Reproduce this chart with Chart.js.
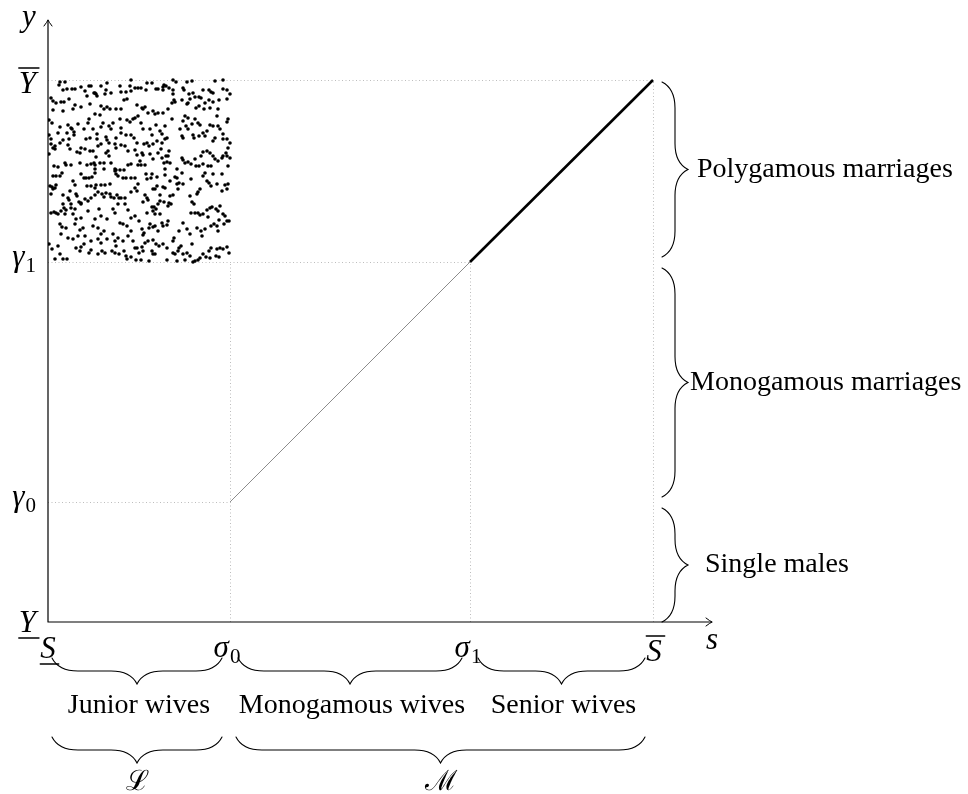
<!DOCTYPE html>
<html>
<head>
<meta charset="utf-8">
<script src="https://cdn.jsdelivr.net/npm/chart.js@4/dist/chart.umd.min.js"></script>
<style>
  html, body { margin: 0; padding: 0; background: #fff; }
</style>
</head>
<body>
<canvas id="c" width="968" height="794"></canvas>
<script>
// Thresholds on the wife-share axis (s) and the male-income axis (y)
const sLow = 0, sigma0 = 182, sigma1 = 422, sHigh = 605, sEnd = 664;
const yLow = 0, gamma0 = 120, gamma1 = 360, yHigh = 542, yEnd = 602;

// Tick labels: [base symbol, subscript, decoration]
const sTickLabels = [["S", "", "under"], ["σ", "0", ""], ["σ", "1", ""], ["S", "", "over"]];
const yTickLabels = [["Y", "", "under"], ["γ", "0", ""], ["γ", "1", ""], ["Y", "", "over"]];

// Brace groups
const wifeGroups = ["Junior wives", "Monogamous wives", "Senior wives"];
const wifeBounds = [[sLow, sigma0], [sigma0, sigma1], [sigma1, sHigh]];
const classGroups = ["ℒ", "ℳ"];
const classBounds = [[sLow, sigma0], [sigma0, sHigh]];
const marriageGroups = ["Polygamous marriages", "Monogamous marriages", "Single males"];
const marriageBounds = [[gamma1, yHigh], [gamma0, gamma1], [yLow, gamma0]];

// Scattered (s, y) pairs of polygamous households, by block of the box
const dotsUpperLeft = [
[12,540],[17,540],[11,537],[15,532],[19,533],[24,533],[27,533],[33,535],[37,531],[41,536],[43,536],[47,529],[48,528],
[53,536],[59,539],[58,532],[57,528],[63,529],[72,536],[73,530],[78,530],[83,542],[82,536],[83,531],[87,534],[90,534],
[3,524],[5,521],[8,519],[13,520],[16,520],[21,523],[25,513],[27,517],[33,515],[39,526],[42,518],[46,529],[49,526],
[53,516],[56,513],[59,515],[62,513],[68,513],[73,513],[76,522],[79,523],[89,517],[5,512],[15,511],[41,503],[47,508],
[52,507],[1,502],[4,499],[20,497],[23,494],[24,493],[30,498],[36,493],[40,499],[45,493],[53,495],[55,499],[61,496],
[63,493],[65,499],[72,503],[79,502],[82,500],[85,503],[87,504],[90,506],[12,495],[10,489],[1,487],[3,483],[15,482],
[19,489],[21,483],[26,487],[26,490],[38,483],[42,484],[49,488],[49,483],[58,485],[59,482],[61,479],[68,484],[73,494],
[73,489],[78,487],[83,487],[86,484],[89,479],[7,476],[12,479],[3,478],[5,474],[7,473],[20,477],[22,473],[33,474],
[37,473],[29,470],[32,469],[42,471],[45,471],[50,476],[53,478],[58,469],[60,471],[67,478],[68,474],[73,477],[77,476],
[80,471],[89,467],[1,468],[48,465],[61,466],[87,472],[6,456],[10,455],[17,459],[18,457],[23,457],[32,459],[39,457],
[43,458],[46,459],[47,457],[52,459],[56,459],[63,459],[67,453],[68,452],[72,452],[76,452],[80,457],[83,458],[90,457],
[47,453],[56,453]
];
const dotsUpperRight = [
[99,539],[98,532],[93,534],[104,539],[108,533],[110,533],[115,535],[116,537],[118,536],[115,532],[121,534],[125,542],
[128,540],[125,532],[125,528],[126,522],[127,520],[134,522],[139,540],[144,541],[135,534],[136,532],[141,528],[145,529],
[147,525],[151,525],[153,524],[155,532],[161,532],[163,530],[165,529],[167,541],[175,542],[175,533],[179,532],[182,528],
[179,523],[171,522],[161,522],[157,519],[142,523],[140,519],[139,518],[148,514],[151,516],[156,513],[162,514],[165,520],
[170,513],[169,506],[180,503],[179,500],[95,513],[94,514],[97,515],[100,509],[105,511],[107,508],[110,509],[115,509],
[124,519],[120,513],[124,503],[93,499],[95,493],[102,493],[104,487],[108,497],[112,491],[117,496],[114,488],[109,481],
[105,478],[99,479],[96,478],[101,476],[114,479],[117,483],[119,484],[137,506],[135,501],[140,504],[144,498],[147,503],
[150,499],[152,497],[138,496],[140,493],[132,493],[134,486],[135,484],[145,487],[146,484],[151,486],[157,486],[155,489],
[159,491],[162,497],[165,496],[170,496],[172,493],[175,488],[167,484],[165,481],[175,483],[179,483],[182,479],[180,474],
[178,469],[94,469],[95,467],[92,461],[93,457],[97,457],[102,468],[105,463],[110,469],[113,473],[114,464],[118,466],
[120,466],[121,471],[119,460],[122,459],[129,453],[134,464],[135,462],[137,459],[140,460],[143,458],[147,463],[148,456],
[151,456],[153,466],[155,470],[159,471],[162,469],[165,466],[167,463],[170,461],[174,464],[175,466],[179,466],[182,464],
[180,456],[116,459],[117,453],[155,458],[160,456],[163,456]
];
const dotsLowerLeft = [
[5,446],[8,446],[12,446],[14,449],[2,436],[4,435],[5,433],[3,428],[7,434],[8,437],[25,441],[27,437],[33,448],[36,444],
[38,444],[41,444],[44,445],[47,449],[43,436],[39,436],[47,434],[48,437],[53,437],[57,437],[62,438],[67,451],[68,448],
[70,446],[75,444],[78,444],[83,444],[87,444],[90,438],[87,434],[89,431],[83,430],[77,424],[73,424],[71,424],[69,427],
[66,424],[63,425],[62,428],[58,429],[56,425],[54,428],[50,430],[47,427],[43,424],[40,421],[37,423],[33,419],[31,420],
[29,426],[28,428],[22,431],[15,427],[20,424],[21,422],[23,418],[15,418],[23,414],[27,413],[3,409],[6,410],[8,409],
[10,408],[13,411],[16,414],[18,412],[17,408],[33,418],[40,411],[33,404],[28,403],[25,408],[47,403],[51,413],[53,406],
[59,403],[65,413],[67,409],[70,418],[77,418],[80,412],[83,404],[87,406],[91,401],[79,396],[75,398],[72,399],[12,398],
[14,395],[13,388],[18,394],[27,398],[32,392],[35,394],[37,386],[30,386],[20,384],[25,383],[45,396],[50,394],[53,388],
[56,391],[50,383],[43,381],[59,383],[65,388],[67,381],[68,376],[70,384],[75,381],[80,386],[83,391],[85,381],[87,374],
[89,374],[91,369],[1,378],[4,373],[10,376],[7,363],[12,368],[15,363],[19,363],[28,374],[32,371],[33,375],[36,378],
[41,369],[43,372],[53,379],[54,371],[57,369],[64,371],[67,369],[71,368],[76,371],[78,366],[79,363],[88,362],[83,365],
[50,368]
];
const dotsLowerRight = [
[98,448],[104,448],[103,444],[99,443],[109,445],[117,447],[127,445],[129,444],[134,449],[143,443],[155,446],[157,449],
[165,448],[174,448],[159,441],[161,439],[163,436],[169,438],[177,437],[180,438],[179,433],[174,431],[152,433],[150,430],
[149,428],[142,426],[144,420],[146,418],[135,438],[129,438],[131,439],[130,433],[122,441],[117,434],[115,435],[109,436],
[105,433],[107,433],[112,427],[112,421],[116,420],[110,418],[106,415],[108,413],[122,426],[125,427],[121,419],[123,418],
[120,416],[97,427],[99,424],[100,422],[95,420],[104,415],[105,411],[99,409],[112,408],[107,408],[114,399],[107,396],
[105,395],[101,394],[102,398],[94,393],[96,389],[95,387],[115,396],[119,397],[120,401],[110,391],[100,381],[97,379],
[105,382],[108,378],[94,375],[95,371],[104,371],[105,368],[107,368],[111,376],[115,378],[119,374],[126,384],[125,381],
[135,399],[131,391],[139,393],[142,388],[149,394],[153,391],[157,393],[154,386],[163,396],[166,398],[169,396],[170,391],
[176,398],[179,401],[181,401],[143,409],[147,409],[150,409],[152,407],[155,408],[159,412],[162,414],[164,415],[168,413],
[172,416],[170,411],[175,408],[177,406],[171,402],[160,405],[144,378],[133,376],[131,374],[125,369],[127,368],[130,371],
[135,368],[139,369],[142,366],[147,361],[152,364],[155,368],[158,365],[161,371],[163,374],[169,373],[172,374],[175,373],
[179,375],[181,369],[162,364],[168,366],[171,365],[93,362],[101,361],[119,362],[129,361],[137,362],[145,360],[150,362]
];

const toPoints = arr => arr.map(([x, y]) => ({ x, y }));
const allDots = [].concat(dotsUpperLeft, dotsUpperRight, dotsLowerLeft, dotsLowerRight);

const SERIF = '"Liberation Serif", "DejaVu Serif", serif';
const MATH = 'italic 31px ' + SERIF;
const SUBF = '21px ' + SERIF;
const TEXT = '28px ' + SERIF;

// TikZ-style curly brace from p1 to p2, bulging to the left of the travel direction
function brace(ctx, x1, y1, x2, y2, amp) {
  const dx = x2 - x1, dy = y2 - y1, len = Math.hypot(dx, dy);
  const ux = dx / len, uy = dy / len, nx = uy, ny = -ux;
  const P = (t, h) => [x1 + ux * t + nx * h, y1 + uy * t + ny * h];
  const a = amp, m = len / 2;
  ctx.beginPath();
  ctx.moveTo(...P(0, 0));
  ctx.bezierCurveTo(...P(.15 * a, .3 * a), ...P(.5 * a, .5 * a), ...P(a, .5 * a));
  ctx.lineTo(...P(m - a, .5 * a));
  ctx.bezierCurveTo(...P(m - .5 * a, .5 * a), ...P(m - .15 * a, .7 * a), ...P(m, a));
  ctx.bezierCurveTo(...P(m + .15 * a, .7 * a), ...P(m + .5 * a, .5 * a), ...P(m + a, .5 * a));
  ctx.lineTo(...P(len - a, .5 * a));
  ctx.bezierCurveTo(...P(len - .5 * a, .5 * a), ...P(len - .15 * a, .3 * a), ...P(len, 0));
  ctx.stroke();
}

// Italic symbol with optional upright subscript and over/under bar
function mathLabel(ctx, lab, x, y, align) {
  const [base, sub, deco] = lab;
  ctx.font = MATH;
  const wb = ctx.measureText(base).width;
  ctx.font = SUBF;
  const ws = sub ? ctx.measureText(sub).width + 1 : 0;
  const w = wb + ws;
  const left = align === 'right' ? x - w : align === 'center' ? x - w / 2 : x;
  ctx.textAlign = 'left';
  ctx.textBaseline = 'alphabetic';
  ctx.font = MATH;
  ctx.fillText(base, left, y);
  if (sub) { ctx.font = SUBF; ctx.fillText(sub, left + wb + 1, y + 6); }
  if (deco) {
    const ly = deco === 'over' ? y - 25 : y + 6;
    ctx.lineWidth = 1.3;
    ctx.beginPath();
    ctx.moveTo(left, ly);
    ctx.lineTo(left + wb + 3, ly);
    ctx.stroke();
  }
}

const decorPlugin = {
  id: 'decor',
  beforeDatasetsDraw(chart) {
    const { ctx, scales: { x, y } } = chart;
    const X = v => x.getPixelForValue(v), Y = v => y.getPixelForValue(v);
    ctx.save();
    ctx.strokeStyle = '#bdbdbd';
    ctx.lineWidth = 1;
    ctx.setLineDash([1, 2.5]);
    const h = [[yHigh, sHigh], [gamma1, sigma1], [gamma0, sigma0]];
    h.forEach(([yy, xe]) => {
      ctx.beginPath(); ctx.moveTo(X(sLow), Y(yy) + 0.5); ctx.lineTo(X(xe), Y(yy) + 0.5); ctx.stroke();
    });
    const v = [[sigma0, gamma1], [sigma1, gamma1], [sHigh, yHigh]];
    v.forEach(([xx, ye]) => {
      ctx.beginPath(); ctx.moveTo(X(xx) + 0.5, Y(yLow)); ctx.lineTo(X(xx) + 0.5, Y(ye)); ctx.stroke();
    });
    ctx.restore();
  },
  afterDatasetsDraw(chart) {
    const { ctx, scales: { x, y } } = chart;
    const X = v => x.getPixelForValue(v), Y = v => y.getPixelForValue(v);
    ctx.save();
    ctx.strokeStyle = '#000';
    ctx.fillStyle = '#000';
    ctx.lineWidth = 1.2;
    ctx.lineCap = 'round';
    // axes with arrow tips
    const x0 = X(sLow), y0 = Y(yLow), xe = X(sEnd), ye = Y(yEnd);
    ctx.beginPath();
    ctx.moveTo(x0, y0); ctx.lineTo(xe, y0);
    ctx.moveTo(x0, y0); ctx.lineTo(x0, ye);
    ctx.stroke();
    ctx.lineWidth = 1;
    ctx.beginPath();
    ctx.moveTo(xe - 6, y0 - 4); ctx.quadraticCurveTo(xe - 2, y0 - 1, xe, y0); ctx.quadraticCurveTo(xe - 2, y0 + 1, xe - 6, y0 + 4);
    ctx.moveTo(x0 - 4, ye + 6); ctx.quadraticCurveTo(x0 - 1, ye + 2, x0, ye); ctx.quadraticCurveTo(x0 + 1, ye + 2, x0 + 4, ye + 6);
    ctx.stroke();

    // axis names
    ctx.font = MATH; ctx.textAlign = 'center'; ctx.textBaseline = 'alphabetic';
    ctx.fillText('s', xe, y0 + 27);
    ctx.fillText('y', x0 - 19, ye + 6);

    // tick labels
    const sVals = [sLow, sigma0, sigma1, sHigh];
    const sBase = [y0 + 36, y0 + 35, y0 + 35, y0 + 39];
    const sShift = [0, -3, -2, 1];
    sVals.forEach((v, i) => mathLabel(ctx, sTickLabels[i], X(v) + sShift[i], sBase[i], 'center'));
    const yVals = [yLow, gamma0, gamma1, yHigh];
    const yOff = [10, 4, 4, 13];
    yVals.forEach((v, i) => mathLabel(ctx, yTickLabels[i], x0 - 12, Y(v) + yOff[i], 'right'));

    // braces
    ctx.lineWidth = 1.1;
    const amp = 26;
    const by1 = y0 + 36, by2 = y0 + 115;
    wifeBounds.forEach(([a, b], i) => {
      const l = X(a) + (i === 0 ? 4 : 8), r = X(b) - 8;
      brace(ctx, r, by1, l, by1, amp);
      ctx.font = TEXT; ctx.textAlign = 'center'; ctx.textBaseline = 'middle';
      ctx.fillText(wifeGroups[i], (l + r) / 2 + 2, by1 + amp + 22);
    });
    classBounds.forEach(([a, b], i) => {
      const l = X(a) + (i === 0 ? 4 : 6), r = X(b) - 8;
      brace(ctx, r, by2, l, by2, amp);
      ctx.font = '28px "DejaVu Serif", serif'; ctx.textAlign = 'center'; ctx.textBaseline = 'middle';
      ctx.fillText(classGroups[i], (l + r) / 2, by2 + amp + 20);
    });
    const bx = X(sHigh) + 9;
    const labelGap = [9, 2, 17];
    marriageBounds.forEach(([a, b], i) => {
      const t = Y(b) + (i === 0 ? 2 : 6), btm = Y(a) - (i === 2 ? 0 : 5);
      brace(ctx, bx, t, bx, btm, amp);
      ctx.font = TEXT; ctx.textAlign = 'left'; ctx.textBaseline = 'middle';
      ctx.fillText(marriageGroups[i], bx + amp + labelGap[i], (t + btm) / 2);
    });
    ctx.restore();
  }
};

new Chart(document.getElementById('c').getContext('2d'), {
  type: 'scatter',
  data: {
    datasets: [
      {
        label: 'households',
        data: toPoints(allDots),
        pointRadius: 1.8,
        pointHoverRadius: 1.8,
        backgroundColor: '#000',
        borderWidth: 0
      },
      {
        type: 'line',
        label: 'monogamous frontier',
        data: [{ x: sigma0, y: gamma0 }, { x: sigma1, y: gamma1 }],
        borderColor: '#8c8c8c',
        borderWidth: 1,
        pointRadius: 0,
        fill: false
      },
      {
        type: 'line',
        label: 'polygamous frontier',
        data: [{ x: sigma1, y: gamma1 }, { x: sHigh, y: yHigh }],
        borderColor: '#000',
        borderWidth: 2.6,
        pointRadius: 0,
        fill: false
      }
    ]
  },
  options: {
    responsive: false,
    animation: false,
    devicePixelRatio: 1,
    layout: { padding: { left: 48, right: 256, top: 20, bottom: 172 } },
    scales: {
      x: { type: 'linear', min: sLow, max: sEnd, display: false },
      y: { type: 'linear', min: yLow, max: yEnd, display: false }
    },
    plugins: { legend: { display: false }, tooltip: { enabled: false } },
    events: []
  },
  plugins: [decorPlugin]
});
</script>
</body>
</html>
